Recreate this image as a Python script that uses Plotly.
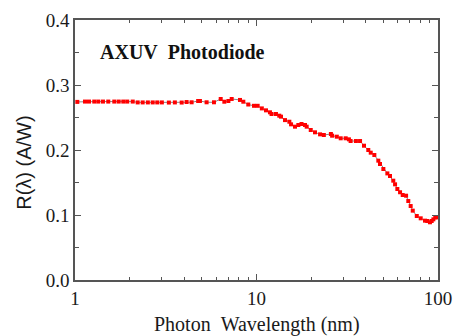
import plotly.graph_objects as go

wavelength_nm = [1.03, 1.135, 1.194, 1.277, 1.344, 1.426, 1.525, 1.646, 1.741, 1.845, 1.94, 2.08,
                 2.215, 2.36, 2.52, 2.68, 2.84, 3.01, 3.29, 3.55, 3.87, 4.12, 4.39, 4.77,
                 4.88, 5.31, 5.83, 6.35, 6.65, 7.0, 7.30, 8.11, 8.46, 9.01, 9.69, 10.15, 10.7,
                 11.28, 11.86, 12.1, 12.8, 13.35, 13.65, 14.36, 15.17, 15.5, 16.3, 17.0, 17.7,
                 18.5, 18.9, 19.9, 21.0, 22.4, 23.5, 25.7, 26.1, 27.7, 29.1, 31.0, 32.3, 33.0,
                 35.3, 37.2, 39.1, 41.3, 42.6, 44.6, 46.9, 47.9, 50.0, 52.6, 54.4, 56.7, 58.0,
                 59.7, 61.8, 63.9, 66.7, 68.6, 70.7, 72.6, 76.4, 80.3, 84.8, 87.3, 90.3, 92.3,
                 94.3, 96.6, 98.4]
responsivity = [0.2740, 0.2745, 0.2745, 0.2745, 0.2745, 0.2745, 0.2745, 0.2745, 0.2745, 0.2745, 0.2745, 0.2745,
                0.2732, 0.2732, 0.2732, 0.2732, 0.2732, 0.2732, 0.2730, 0.2732, 0.2730, 0.2738, 0.2734, 0.2754,
                0.2754, 0.2734, 0.2734, 0.2785, 0.2743, 0.2754, 0.2785, 0.2770, 0.2743, 0.2700, 0.2680, 0.2680, 0.2640,
                0.2610, 0.2580, 0.2554, 0.2554, 0.2528, 0.2513, 0.2460, 0.2435, 0.2395, 0.2359, 0.2385, 0.2400,
                0.2385, 0.2359, 0.2308, 0.2272, 0.2241, 0.2231, 0.2246, 0.2220, 0.2205, 0.2180, 0.2180, 0.2164, 0.2138,
                0.2138, 0.2138, 0.2066, 0.2000, 0.1959, 0.1923, 0.1836, 0.1785, 0.1708, 0.1640, 0.1600, 0.1528, 0.1472,
                0.1400, 0.1350, 0.1308, 0.1297, 0.1215, 0.1138, 0.1067, 0.0985, 0.0949, 0.0913, 0.0908, 0.0888, 0.0908,
                0.0933, 0.0964, 0.0964]

y_ticks = [0.0, 0.1, 0.2, 0.3, 0.4]
y_tick_labels = ["0.0", "0.1", "0.2", "0.3", "0.4"]
y_minor_ticks = [0.05, 0.15, 0.25, 0.35]
x_ticks = [1, 10, 100]
x_tick_labels = ["1", "10", "100"]
x_minor_ticks = [2, 3, 4, 5, 6, 7, 8, 9, 20, 30, 40, 50, 60, 70, 80, 90]

serif = "Liberation Serif, Times New Roman, serif"
sans = "Liberation Sans, Arial, sans-serif"
axis_col = "#555555"
text_col = "#1a1a1a"

fig = go.Figure()
fig.add_trace(go.Scatter(
    x=wavelength_nm, y=responsivity, mode="lines+markers",
    line=dict(color="#666666", width=0.8),
    marker=dict(symbol="square", size=4, color="#ff0000", line=dict(width=0)),
    showlegend=False,
))

fig.update_layout(
    width=454, height=336,
    margin=dict(l=75, r=16, t=20, b=56),
    paper_bgcolor="white", plot_bgcolor="white",
    xaxis=dict(
        type="log", range=[0, 2], automargin=False,
        tickmode="array", tickvals=x_ticks, ticktext=x_tick_labels,
        ticks="inside", ticklen=6, tickwidth=1, tickcolor=axis_col,
        minor=dict(tickmode="array", tickvals=x_minor_ticks, ticks="inside",
                   ticklen=3, tickwidth=1, tickcolor=axis_col, showgrid=False),
        showline=True, linecolor=axis_col, linewidth=1.5, mirror="ticks",
        showgrid=False, zeroline=False,
        tickfont=dict(family=serif, size=19, color=text_col),
    ),
    yaxis=dict(
        range=[0, 0.4], automargin=False,
        tickmode="array", tickvals=y_ticks, ticktext=y_tick_labels,
        ticks="inside", ticklen=6, tickwidth=1, tickcolor=axis_col,
        minor=dict(tickmode="array", tickvals=y_minor_ticks, ticks="inside",
                   ticklen=4, tickwidth=1, tickcolor=axis_col, showgrid=False),
        showline=True, linecolor=axis_col, linewidth=1.5, mirror="ticks",
        showgrid=False, zeroline=False,
        tickfont=dict(family=serif, size=19, color=text_col),
    ),
    annotations=[
        dict(text="<b>AXUV\u00a0\u00a0Photodiode</b>", xref="paper", yref="paper",
             x=0.063, y=0.877, xanchor="left", yanchor="middle", showarrow=False,
             font=dict(family=serif, size=20, color="#111111")),
        dict(text="Photon\u00a0\u00a0Wavelength (nm)", xref="paper", yref="paper",
             x=0.502, y=-0.17, xanchor="center", yanchor="middle", showarrow=False,
             font=dict(family=serif, size=20, color=text_col)),
        dict(text="R(\u03bb) (A/W)", xref="paper", yref="paper", textangle=-90,
             x=-0.141, y=0.45, xanchor="center", yanchor="middle", showarrow=False,
             font=dict(family=sans, size=20, color=text_col)),
    ],
)

fig.write_html("out.html", config={"displayModeBar": False},
               post_script="document.body.style.margin='0px';")
